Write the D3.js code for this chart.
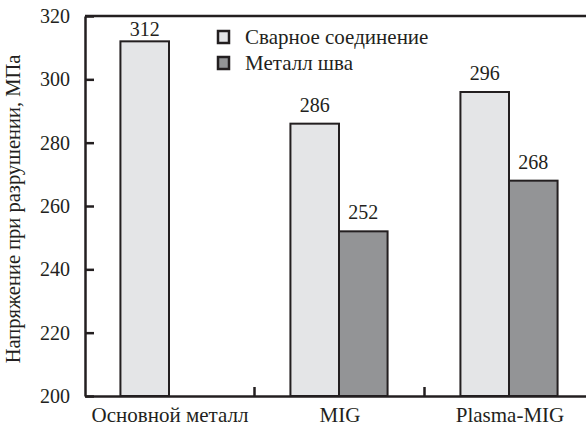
<!DOCTYPE html>
<html>
<head>
<meta charset="utf-8">
<script src="https://cdn.jsdelivr.net/npm/d3@7"></script>
<style>
    body { margin: 0; background: #fff; }
    svg { display: block; }
</style>
</head>
<body>
<svg id="chart"></svg>
<script>
const categories = ['Основной металл', 'MIG', 'Plasma-MIG'];
const series = ['Сварное соединение', 'Металл шва'];
const weldValues = [312, 286, 296];
const seamValues = [null, 252, 268];
const yTicks = [200, 220, 240, 260, 280, 300, 320];
const ylabel = 'Напряжение при разрушении, МПа';

const width = 586, height = 426;
const margin = { top: 16, right: -9, bottom: 30, left: 85 };
const ink = '#231f20';
const colors = ['#e4e5e7', '#939496'];
const font = 'Liberation Serif';

const svg = d3.select('#chart')
    .attr('width', width)
    .attr('height', height)
    .attr('font-family', font)
    .attr('font-size', 20);

const inner_width = width - margin.left - margin.right;
const inner_height = height - margin.top - margin.bottom;

const chart = svg.append('g')
    .attr('transform', `translate(${margin.left}, ${margin.top})`);

const xscale = d3.scaleBand()
    .domain(categories)
    .range([0, inner_width]);

const sub = d3.scaleBand()
    .domain(series)
    .range([0, xscale.bandwidth()])
    .paddingOuter(0.75);

const yscale = d3.scaleLinear()
    .domain([200, 320])
    .range([inner_height, 0]);

// every text gets the font as its own attributes
function serif(sel, size) {
    sel.attr('font-family', font)
        .attr('font-size', size || 20)
        .attr('fill', ink);
}

// bars
const rows = [];
categories.forEach((c, i) => {
    rows.push({ cat: c, s: series[0], v: weldValues[i], k: 0 });
    if (seamValues[i] != null) rows.push({ cat: c, s: series[1], v: seamValues[i], k: 1 });
});

chart.selectAll('.bar')
    .data(rows)
    .join('rect')
    .attr('class', 'bar')
    .attr('x', d => xscale(d.cat) + sub(d.s) - 1)
    .attr('y', d => yscale(d.v))
    .attr('width', sub.bandwidth())
    .attr('height', d => inner_height - yscale(d.v))
    .attr('fill', d => colors[d.k])
    .attr('stroke', ink)
    .attr('stroke-width', 2);

chart.selectAll('.val')
    .data(rows)
    .join('text')
    .attr('class', 'val')
    .attr('x', d => xscale(d.cat) + sub(d.s) - 1 + sub.bandwidth() / 2)
    .attr('y', d => Math.max(yscale(d.v) - 12, 20))
    .attr('text-anchor', 'middle')
    .text(d => d.v)
    .call(serif, 20);

// frame: top line
chart.append('line')
    .attr('x1', 0).attr('x2', inner_width)
    .attr('y1', 0).attr('y2', 0)
    .attr('stroke', ink).attr('stroke-width', 2.5);

// y axis
const yaxis = d3.axisLeft(yscale)
    .tickValues(yTicks)
    .tickSizeInner(-9)
    .tickSizeOuter(0)
    .tickPadding(15);

const yg = chart.append('g').call(yaxis)
    .attr('font-family', null)
    .attr('font-size', null);
yg.select('.domain').attr('stroke', ink).attr('stroke-width', 2.5);
yg.selectAll('.tick line').attr('stroke', ink).attr('stroke-width', 2.5);
yg.selectAll('.tick text').call(serif, 20);

// x axis
const xaxis = d3.axisBottom(xscale)
    .tickSize(0)
    .tickPadding(11);

const xg = chart.append('g')
    .attr('transform', `translate(0, ${inner_height})`)
    .call(xaxis)
    .attr('font-family', null)
    .attr('font-size', null);
xg.select('.domain').attr('stroke', ink).attr('stroke-width', 2.5);
xg.selectAll('.tick text').call(serif, 21);

// group separators on the bottom axis
xg.selectAll('.sep')
    .data(categories.slice(1))
    .join('line')
    .attr('class', 'sep')
    .attr('x1', d => xscale(d) - 0.5)
    .attr('x2', d => xscale(d) - 0.5)
    .attr('y1', 0)
    .attr('y2', -9)
    .attr('stroke', ink)
    .attr('stroke-width', 2.5);

// y label
svg.append('text')
    .attr('transform', `translate(20, ${margin.top + inner_height / 2 + 3}) rotate(-90)`)
    .attr('text-anchor', 'middle')
    .text(ylabel)
    .call(serif, 20.5);

// legend
const legend = svg.append('g')
    .attr('transform', 'translate(217, 30)');

const item = legend.selectAll('.item')
    .data(series)
    .join('g')
    .attr('class', 'item')
    .attr('transform', (d, i) => `translate(0, ${i * 26})`);

item.append('rect')
    .attr('x', 1).attr('y', 1)
    .attr('width', 11).attr('height', 12)
    .attr('fill', (d, i) => colors[i])
    .attr('stroke', ink)
    .attr('stroke-width', 2.5);

item.append('text')
    .attr('x', 28)
    .attr('y', 14)
    .text(d => d)
    .call(serif, 21);
</script>
</body>
</html>
